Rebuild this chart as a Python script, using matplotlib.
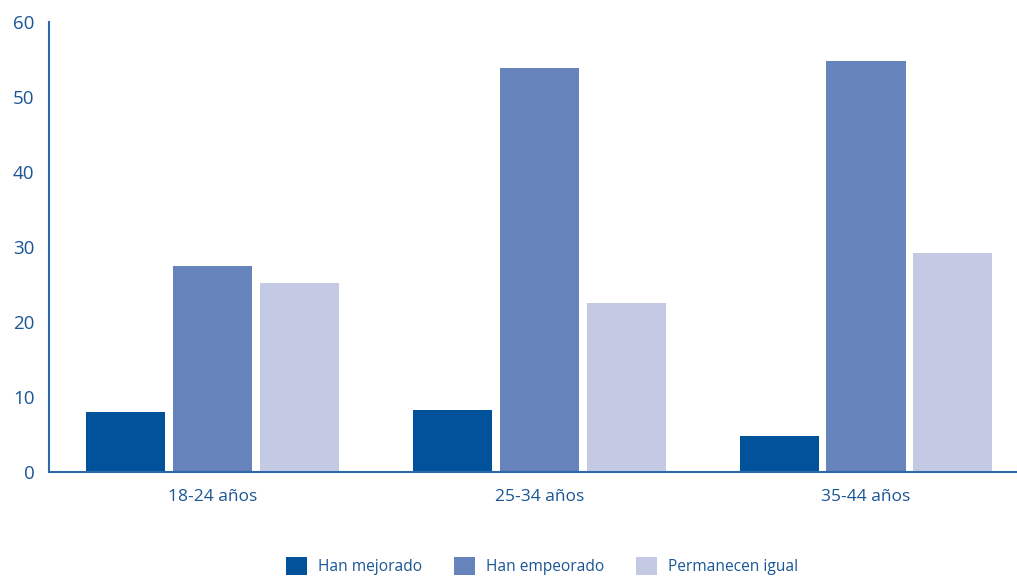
import matplotlib.pyplot as plt
import numpy as np

plt.rcParams['font.family'] = ['Open Sans', 'DejaVu Sans']

# Data
grupos = ['18-24 años', '25-34 años', '35-44 años']
series = ['Han mejorado', 'Han empeorado', 'Permanecen igual']
mejorado = [8.0, 8.3, 4.8]
empeorado = [27.5, 53.9, 54.8]
igual = [25.2, 22.6, 29.2]
colores = ['#00529b', '#6783bb', '#c4cae3']
texto = '#1a5596'
eje = '#2e6aab'

fig = plt.figure(figsize=(10.17, 5.78), dpi=100)
ax = fig.add_axes([0.0482, 0.1834, 0.964, 0.7785])

x = np.arange(len(grupos))
w = 0.242
paso = 0.266
for i, (vals, nombre) in enumerate(zip([mejorado, empeorado, igual], series)):
    ax.bar(x + (i - 1) * paso, vals, width=w, color=colores[i], label=nombre, zorder=2)

ax.set_xlim(-0.5, 2.5)
ax.set_ylim(0, 60)
ax.set_yticks(range(0, 61, 10))
ax.set_xticks(x)
ax.set_xticklabels(grupos)

for s in ['top', 'right']:
    ax.spines[s].set_visible(False)
for s in ['left', 'bottom']:
    ax.spines[s].set_color(eje)
    ax.spines[s].set_linewidth(1.5)
    ax.spines[s].set_zorder(3)

ax.tick_params(axis='y', length=0, pad=10.5, labelsize=13.5, labelcolor=texto)
ax.tick_params(axis='x', length=0, pad=12, labelsize=12.5, labelcolor=texto)
for t in ax.get_yticklabels():
    t.set_fontweight('medium')

leg = fig.legend(loc='center', bbox_to_anchor=(542 / 1017, 1 - 566 / 578), ncol=3,
                 frameon=False, fontsize=11.2, handlelength=1.4, handleheight=1.4,
                 handletextpad=0.7, columnspacing=2.0)
for t in leg.get_texts():
    t.set_color(texto)

fig.savefig('out.png', dpi=100)
